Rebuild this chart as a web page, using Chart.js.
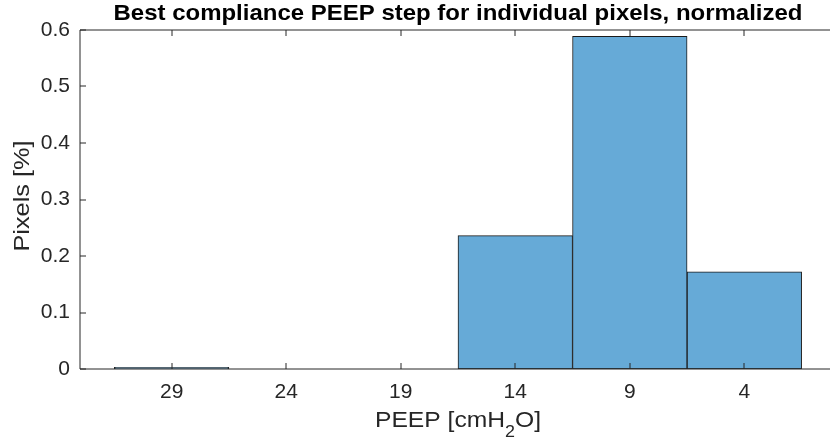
<!DOCTYPE html>
<html>
<head>
<meta charset="utf-8">
<script src="https://cdn.jsdelivr.net/npm/chart.js@4"></script>
<style>
  html, body { margin: 0; padding: 0; background: #fff; overflow: hidden; }
  #wrap { width: 830px; height: 446px; overflow: hidden; }
  canvas { display: block; }
</style>
</head>
<body>
<div id="wrap"><canvas id="peepChart" width="850" height="446"></canvas></div>
<script>
// PEEP steps (cmH2O), shown high to low
const peepSteps = [29, 24, 19, 14, 9, 4];
// share of pixels with best compliance at each step
const pixelShare = [0.003, 0, 0, 0.236, 0.589, 0.172];
const yTicks = [0, 0.1, 0.2, 0.3, 0.4, 0.5, 0.6];

const FONT = '"Liberation Sans", Arial, Helvetica, sans-serif';
const AXIS_COLOR = '#262626';

// text stretched a little along its run
function wideText(ctx, text, x, y, sx) {
  ctx.save();
  ctx.translate(x, y);
  ctx.scale(sx, 1);
  ctx.fillText(text, 0, 0);
  ctx.restore();
}

// box round the axes with inward ticks, plus title and axis labels
const matlabAxes = {
  id: 'matlabAxes',
  afterDatasetsDraw(chart) {
    const { ctx, chartArea: a, scales: { x, y } } = chart;
    const tl = 6;
    ctx.save();
    ctx.strokeStyle = AXIS_COLOR;
    ctx.lineWidth = 1;
    ctx.beginPath();
    ctx.rect(a.left, a.top, a.right - a.left, a.bottom - a.top);
    x.ticks.forEach(t => {
      const px = Math.round(x.getPixelForValue(t.value));
      ctx.moveTo(px, a.bottom); ctx.lineTo(px, a.bottom - tl);
      ctx.moveTo(px, a.top); ctx.lineTo(px, a.top + tl);
    });
    y.ticks.forEach(t => {
      const py = Math.round(y.getPixelForValue(t.value));
      ctx.moveTo(a.left, py); ctx.lineTo(a.left + tl, py);
      ctx.moveTo(a.right, py); ctx.lineTo(a.right - tl, py);
    });
    ctx.stroke();

    const cx = (a.left + a.right) / 2;
    ctx.textBaseline = 'alphabetic';

    // title
    ctx.fillStyle = '#000';
    ctx.textAlign = 'center';
    ctx.font = 'bold 22px ' + FONT;
    wideText(ctx, 'Best compliance PEEP step for individual pixels, normalized', cx, 20, 1.09);

    // x label with subscript
    const st = 1.12;
    ctx.fillStyle = AXIS_COLOR;
    const mainFont = '22px ' + FONT, subFont = '16px ' + FONT;
    const p1 = 'PEEP [cmH', sub = '2', p2 = 'O]';
    ctx.font = mainFont;
    const w1 = ctx.measureText(p1).width * st, w3 = ctx.measureText(p2).width * st;
    ctx.font = subFont;
    const w2 = ctx.measureText(sub).width * st;
    const sx = cx - (w1 + w2 + w3) / 2;
    const base = 427;
    ctx.textAlign = 'left';
    ctx.font = mainFont;
    wideText(ctx, p1, sx, base, st);
    ctx.font = subFont;
    wideText(ctx, sub, sx + w1, base + 10, st);
    ctx.font = mainFont;
    wideText(ctx, p2, sx + w1 + w2, base, st);

    // y label
    ctx.translate(29, 196);
    ctx.rotate(-Math.PI / 2);
    ctx.textAlign = 'center';
    wideText(ctx, 'Pixels [%]', 0, 0, 1.15);
    ctx.restore();
  }
};

new Chart(document.getElementById('peepChart'), {
  type: 'bar',
  data: {
    datasets: [{
      data: peepSteps.map((p, i) => ({ x: p, y: pixelShare[i] })),
      backgroundColor: '#66aad7',
      borderColor: '#1a1a1a',
      borderWidth: 1,
      borderSkipped: false,
      barPercentage: 1,
      categoryPercentage: 1
    }]
  },
  options: {
    responsive: false,
    devicePixelRatio: 1,
    animation: false,
    events: [],
    layout: { padding: { top: 30, right: 14, left: 0, bottom: 0 } },
    plugins: { legend: { display: false }, tooltip: { enabled: false } },
    scales: {
      x: {
        type: 'linear',
        offset: false,
        reverse: true,
        min: 0,
        max: 33,
        afterBuildTicks: s => { s.ticks = peepSteps.map(v => ({ value: v })); },
        afterFit: s => { s.height = 77; },
        grid: { display: false, drawTicks: false, offset: false },
        border: { display: false },
        ticks: { color: AXIS_COLOR, font: { family: FONT, size: 21 }, padding: 11, maxRotation: 0 }
      },
      y: {
        min: 0,
        max: 0.6,
        afterBuildTicks: s => { s.ticks = yTicks.map(v => ({ value: v })); },
        afterFit: s => { s.width = 80; },
        grid: { display: false, drawTicks: false },
        border: { display: false },
        ticks: { color: AXIS_COLOR, font: { family: FONT, size: 21 }, padding: 10,
                 callback: v => String(Math.round(v * 10) / 10) }
      }
    }
  },
  plugins: [matlabAxes]
});
</script>
</body>
</html>
